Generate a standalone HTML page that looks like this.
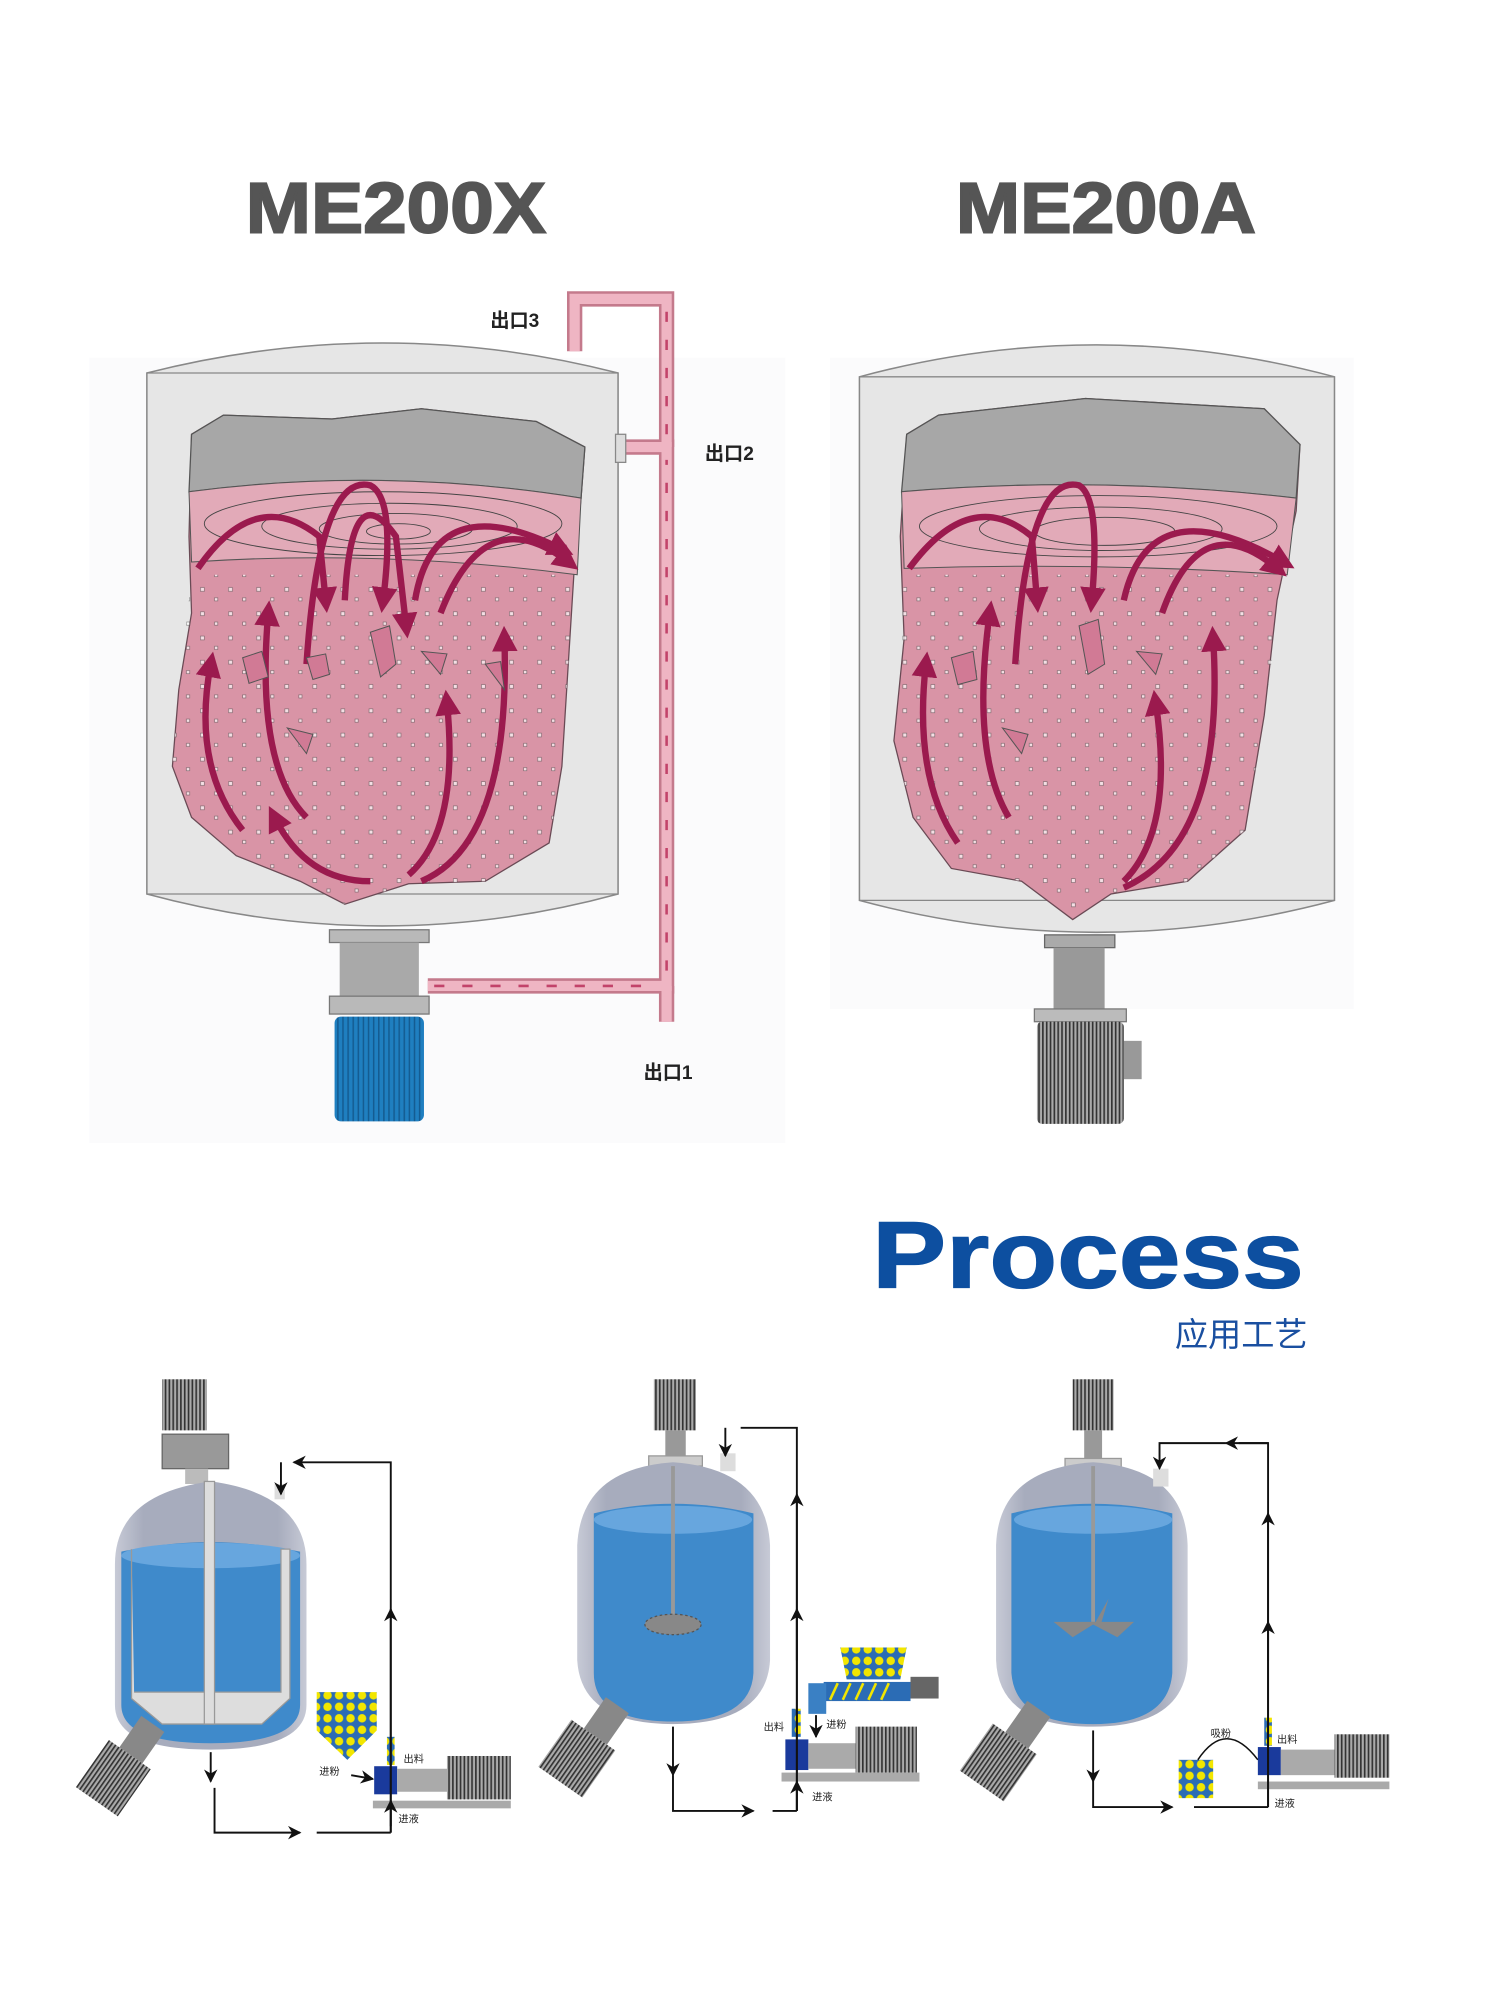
<!DOCTYPE html>
<html><head><meta charset="utf-8"><style>
html,body{margin:0;padding:0;background:#fff}
svg{display:block}
text{font-family:"Liberation Sans","Noto Sans CJK SC",sans-serif}
</style></head><body>
<svg width="1489" height="2000" viewBox="0 0 1166 1566" xmlns="http://www.w3.org/2000/svg">
<defs>
<marker id="ar" viewBox="0 0 10 10" refX="5" refY="5" markerWidth="4" markerHeight="4" orient="auto"><path d="M0,0L10,5L0,10z" fill="#9b1a4e"/></marker>
<marker id="bk" viewBox="0 0 10 10" refX="9" refY="5" markerWidth="9" markerHeight="7" orient="auto"><path d="M0,0L10,5L0,10L3,5z" fill="#111"/></marker>
<linearGradient id="vg" x1="0" x2="1"><stop offset="0" stop-color="#c7cad6"/><stop offset="0.15" stop-color="#a7acbd"/><stop offset="0.85" stop-color="#a7acbd"/><stop offset="1" stop-color="#c7cad6"/></linearGradient>
<pattern id="fin" width="3" height="10" patternUnits="userSpaceOnUse"><rect width="3" height="10" fill="#aaa"/><rect width="1.3" height="10" fill="#333"/></pattern>
<pattern id="dots" width="9" height="9" patternUnits="userSpaceOnUse"><rect width="9" height="9" fill="#2b6cb5"/><circle cx="4.5" cy="4.5" r="3.3" fill="#f2e600"/></pattern>
<pattern id="bfin" width="4" height="10" patternUnits="userSpaceOnUse"><rect width="4" height="10" fill="#1f7fc0"/><rect width="1.2" height="10" fill="#145c92"/></pattern>
<pattern id="spk" width="22" height="19" patternUnits="userSpaceOnUse"><rect x="3" y="4" width="3" height="3" fill="#fff" stroke="#555" stroke-width="0.5"/><rect x="14" y="12" width="2.5" height="2.5" fill="#fff" stroke="#555" stroke-width="0.5"/></pattern>
</defs>

<text x="310" y="182" font-size="56" font-weight="bold" fill="#555" stroke="#555" stroke-width="1.5" text-anchor="middle" textLength="235" lengthAdjust="spacingAndGlyphs">ME200X</text>
<text x="866" y="182" font-size="56" font-weight="bold" fill="#555" stroke="#555" stroke-width="1.5" text-anchor="middle" textLength="235" lengthAdjust="spacingAndGlyphs">ME200A</text>

<!-- LEFT TANK -->
<rect x="70" y="280" width="545" height="615" fill="#fbfbfc"/>
<path d="M115,292 Q300,245 484,292 L484,700 Q300,750 115,700 Z" fill="#e6e6e6" stroke="#888" stroke-width="1.2"/>
<line x1="115" y1="292" x2="484" y2="292" stroke="#888"/>
<line x1="115" y1="700" x2="484" y2="700" stroke="#888"/>
<path d="M150,340 L175,325 L260,328 L330,320 L420,330 L458,350 L455,390 L450,440 L445,520 L440,600 L430,660 L380,690 L320,692 L270,708 L235,690 L185,670 L150,640 L135,600 L140,540 L150,480 L148,420 Z" fill="#d994a6" stroke="#6a4a55" stroke-width="1"/>
<path d="M150,450 L450,450 L445,520 L440,600 L430,660 L380,690 L320,692 L270,708 L235,690 L185,670 L150,640 L135,600 L140,540 Z" fill="url(#spk)" opacity="0.7"/>
<path d="M150,340 L175,325 L260,328 L330,320 L420,330 L458,350 L455,390 Q300,365 148,385 Z" fill="#a7a7a7" stroke="#555"/>
<path d="M148,385 Q300,365 455,390 L452,450 Q300,430 150,440 Z" fill="#e2aab8" stroke="#555" stroke-width="0.8"/>
<g fill="none" stroke="#444" stroke-width="0.7">
<ellipse cx="300" cy="410" rx="140" ry="25"/><ellipse cx="305" cy="412" rx="100" ry="18"/><ellipse cx="310" cy="414" rx="60" ry="12"/><ellipse cx="312" cy="416" rx="25" ry="6"/>
</g>
<g fill="none" stroke="#9b1a4e" stroke-width="5" marker-end="url(#ar)">
<path d="M155,445 Q200,380 250,420 L255,470"/>
<path d="M240,520 Q250,370 290,380 Q310,390 300,470"/>
<path d="M270,470 Q275,370 310,420 L318,490"/>
<path d="M325,470 Q340,380 440,430"/>
<path d="M345,480 Q380,390 445,440"/>
<path d="M240,640 Q200,600 210,480"/>
<path d="M190,650 Q150,600 165,520"/>
<path d="M290,690 Q240,690 215,640"/>
<path d="M320,685 Q360,650 350,550"/>
<path d="M330,690 Q400,660 395,500"/>
</g>
<g fill="#d17a95" stroke="#555" stroke-width="0.8">
<polygon points="290,495 305,490 310,520 298,530"/><polygon points="190,515 205,510 210,530 195,535"/><polygon points="330,510 350,512 345,528"/><polygon points="225,570 245,575 240,590"/><polygon points="240,515 255,512 258,528 245,532"/><polygon points="380,520 392,518 395,540"/>
</g>

<g fill="none" stroke="#c47a8c" stroke-width="12" stroke-linejoin="miter"><path d="M335,772 L522,772 L522,350 L484,350"/><path d="M522,772 L522,800"/><path d="M522,350 L522,234 L450,234 L450,275"/></g>
<g fill="none" stroke="#efb5c3" stroke-width="8" stroke-linejoin="miter"><path d="M335,772 L522,772 L522,350 L484,350"/><path d="M522,772 L522,800"/><path d="M522,350 L522,234 L450,234 L450,275"/></g>
<g stroke="#c2436a" stroke-width="2" stroke-dasharray="8,14"><line x1="340" y1="772" x2="505" y2="772"/><line x1="522" y1="760" x2="522" y2="360"/><line x1="522" y1="340" x2="522" y2="240"/></g>
<rect x="482" y="340" width="8" height="22" fill="#ddd" stroke="#888"/>
<text x="384" y="256" font-size="15" font-weight="bold" fill="#222">出口3</text>
<text x="552" y="360" font-size="15" font-weight="bold" fill="#222">出口2</text>
<text x="504" y="845" font-size="15" font-weight="bold" fill="#222">出口1</text>
<rect x="258" y="728" width="78" height="10" fill="#b9b9b9" stroke="#777"/>
<rect x="266" y="738" width="62" height="42" fill="#a9a9a9"/>
<rect x="258" y="780" width="78" height="14" fill="#b9b9b9" stroke="#777"/>
<rect x="262" y="796" width="70" height="82" rx="5" fill="url(#bfin)"/>

<!-- RIGHT TANK -->
<rect x="650" y="280" width="410" height="510" fill="#fbfbfc"/>
<path d="M673,295 Q858,245 1045,295 L1045,705 Q858,755 673,705 Z" fill="#e6e6e6" stroke="#888" stroke-width="1.2"/>
<line x1="673" y1="295" x2="1045" y2="295" stroke="#888"/><line x1="673" y1="705" x2="1045" y2="705" stroke="#888"/>
<path d="M710,340 L735,325 L850,312 L990,320 L1018,348 L1015,400 L1000,470 L990,560 L975,650 L930,690 L870,700 L840,720 L800,690 L745,680 L715,640 L700,580 L708,500 L705,420 Z" fill="#d994a6" stroke="#6a4a55"/>
<path d="M708,450 L1005,450 L990,560 L975,650 L930,690 L870,700 L840,720 L800,690 L745,680 L715,640 L700,580 Z" fill="url(#spk)" opacity="0.7"/>
<path d="M710,340 L735,325 L850,312 L990,320 L1018,348 L1015,390 Q860,372 706,385 Z" fill="#a7a7a7" stroke="#555"/>
<path d="M706,385 Q860,372 1015,390 L1008,450 Q860,440 708,445 Z" fill="#e2aab8" stroke="#555" stroke-width="0.8"/>
<g fill="none" stroke="#444" stroke-width="0.7"><ellipse cx="860" cy="412" rx="140" ry="24"/><ellipse cx="862" cy="414" rx="95" ry="17"/><ellipse cx="865" cy="416" rx="55" ry="11"/></g>
<g fill="none" stroke="#9b1a4e" stroke-width="5" marker-end="url(#ar)">
<path d="M712,445 Q760,380 808,420 L812,470"/>
<path d="M795,520 Q805,370 845,380 Q862,390 855,470"/>
<path d="M880,470 Q900,380 1005,440"/>
<path d="M910,480 Q940,395 1000,445"/>
<path d="M790,640 Q760,590 775,480"/>
<path d="M750,660 Q715,610 725,520"/>
<path d="M880,690 Q920,650 905,550"/>
<path d="M880,695 Q960,660 950,500"/>
</g>
<g fill="#d17a95" stroke="#555" stroke-width="0.8"><polygon points="845,490 860,485 865,520 852,528"/><polygon points="745,515 762,510 765,532 750,536"/><polygon points="890,510 910,512 905,528"/><polygon points="785,570 805,575 800,590"/></g>
<rect x="818" y="732" width="55" height="10" fill="#aaa" stroke="#666"/>
<rect x="825" y="742" width="40" height="48" fill="#999"/>
<rect x="810" y="790" width="72" height="10" fill="#bbb" stroke="#777"/>
<rect x="812" y="800" width="68" height="80" rx="4" fill="url(#fin)"/>
<rect x="880" y="815" width="14" height="30" fill="#999"/>

<text x="683" y="1008" font-size="74" font-weight="bold" fill="#0d4fa0" stroke="#0d4fa0" stroke-width="1" textLength="338" lengthAdjust="spacingAndGlyphs">Process</text>
<text x="920" y="1054" font-size="26" fill="#1a4fa0">应用工艺</text>

<!-- BOTTOM TANK 1 -->
<rect x="127" y="1080" width="35" height="40" fill="url(#fin)"/>
<rect x="127" y="1123" width="52" height="27" fill="#999" stroke="#666"/>
<rect x="145" y="1150" width="18" height="12" fill="#bbb"/>
<path d="M90,1225 Q90,1170 165,1160 Q240,1170 240,1225 L240,1335 Q240,1370 165,1370 Q90,1370 90,1335 Z" fill="url(#vg)"/>
<path d="M95,1215 Q165,1200 235,1215 L235,1335 Q235,1365 165,1365 Q95,1365 95,1335 Z" fill="#3f8acb"/>
<ellipse cx="165" cy="1218" rx="70" ry="10" fill="#67a6de"/>
<path d="M103,1213 L103,1330 L127,1350 L205,1350 L227,1330 L227,1213 L220,1213 L220,1325 L105,1325" fill="#ddd" stroke="#999"/>
<rect x="160" y="1160" width="8" height="190" fill="#ddd" stroke="#999"/>
<rect x="215" y="1162" width="8" height="12" fill="#ddd"/>
<g transform="rotate(35 100 1385)"><rect x="85" y="1345" width="22" height="30" fill="#888"/><rect x="75" y="1375" width="40" height="45" fill="url(#fin)"/></g>
<path d="M248,1325 L295,1325 L295,1355 L272,1378 L248,1355 Z" fill="url(#dots)"/>
<rect x="303" y="1360" width="6" height="22" fill="url(#dots)"/>
<rect x="293" y="1383" width="18" height="22" fill="#1a3a9c"/>
<rect x="311" y="1385" width="40" height="18" fill="#aaa"/><rect x="350" y="1375" width="50" height="34" fill="url(#fin)"/>
<rect x="292" y="1410" width="108" height="6" fill="#aaa"/>
<g fill="none" stroke="#111" stroke-width="1.5">
<path d="M306,1435 L306,1145 L230,1145" marker-end="url(#bk)"/><path d="M220,1145 L220,1170" marker-end="url(#bk)"/>
<path d="M306,1435 L306,1260" marker-end="url(#bk)"/>
<path d="M165,1372 L165,1395" marker-end="url(#bk)"/><path d="M168,1400 L168,1435 L235,1435" marker-end="url(#bk)"/><path d="M248,1435 L306,1435"/>
<path d="M306,1430 L306,1410" marker-end="url(#bk)"/><path d="M275,1390 L292,1393" marker-end="url(#bk)"/>
</g>
<text x="316" y="1380" font-size="8" fill="#222">出料</text><text x="250" y="1390" font-size="8" fill="#222">进粉</text><text x="312" y="1427" font-size="8" fill="#222">进液</text>

<!-- BOTTOM TANK 2 -->
<rect x="512" y="1080" width="33" height="40" fill="url(#fin)"/>
<rect x="521" y="1120" width="16" height="30" fill="#999"/>
<rect x="508" y="1140" width="42" height="8" fill="#ccc" stroke="#999"/>
<path d="M452,1210 Q455,1150 527,1145 Q600,1150 603,1210 L603,1300 Q600,1350 527,1350 Q455,1350 452,1300 Z" fill="url(#vg)"/>
<path d="M465,1185 Q527,1170 590,1185 L590,1310 Q588,1348 527,1348 Q465,1348 465,1310 Z" fill="#3f8acb"/>
<ellipse cx="527" cy="1190" rx="62" ry="11" fill="#67a6de"/>
<line x1="527" y1="1148" x2="527" y2="1270" stroke="#999" stroke-width="3"/>
<ellipse cx="527" cy="1272" rx="22" ry="8" fill="#888" stroke="#555" stroke-dasharray="2,2"/>
<rect x="564" y="1138" width="12" height="14" fill="#ddd"/>
<g transform="rotate(35 465 1365)"><rect x="452" y="1330" width="22" height="30" fill="#888"/><rect x="440" y="1360" width="42" height="45" fill="url(#fin)"/></g>
<path d="M658,1290 L710,1290 L705,1315 L663,1315 Z" fill="url(#dots)"/>
<rect x="645" y="1317" width="68" height="15" fill="#2b6cb5"/>
<g stroke="#f2e600" stroke-width="2"><line x1="650" y1="1331" x2="656" y2="1318"/><line x1="660" y1="1331" x2="666" y2="1318"/><line x1="670" y1="1331" x2="676" y2="1318"/><line x1="680" y1="1331" x2="686" y2="1318"/><line x1="690" y1="1331" x2="696" y2="1318"/></g>
<rect x="633" y="1318" width="14" height="24" fill="#3a80c4"/>
<rect x="713" y="1313" width="22" height="17" fill="#666"/>
<rect x="620" y="1338" width="7" height="22" fill="url(#dots)"/>
<rect x="615" y="1362" width="18" height="24" fill="#1a3a9c"/>
<rect x="633" y="1365" width="40" height="20" fill="#aaa"/><rect x="670" y="1352" width="48" height="36" fill="url(#fin)"/>
<rect x="612" y="1388" width="108" height="7" fill="#aaa"/>
<g fill="none" stroke="#111" stroke-width="1.5">
<path d="M624,1418 L624,1118 L580,1118"/><path d="M568,1118 L568,1140" marker-end="url(#bk)"/>
<path d="M624,1300 L624,1170" marker-end="url(#bk)"/><path d="M624,1418 L624,1260" marker-end="url(#bk)"/>
<path d="M624,1418 L624,1395" marker-end="url(#bk)"/>
<path d="M527,1352 L527,1390" marker-end="url(#bk)"/><path d="M527,1390 L527,1418 L590,1418" marker-end="url(#bk)"/><path d="M605,1418 L624,1418"/>
<path d="M639,1343 L639,1360" marker-end="url(#bk)"/>
</g>
<text x="598" y="1355" font-size="8" fill="#222">出料</text><text x="647" y="1353" font-size="8" fill="#222">进粉</text><text x="636" y="1410" font-size="8" fill="#222">进液</text>

<!-- BOTTOM TANK 3 -->
<rect x="840" y="1080" width="32" height="40" fill="url(#fin)"/>
<rect x="849" y="1120" width="14" height="25" fill="#999"/>
<rect x="834" y="1142" width="44" height="7" fill="#ccc" stroke="#999"/>
<path d="M780,1210 Q782,1150 856,1145 Q928,1150 930,1210 L930,1300 Q928,1352 856,1352 Q782,1352 780,1300 Z" fill="url(#vg)"/>
<path d="M792,1185 Q856,1170 918,1185 L918,1310 Q915,1350 856,1350 Q795,1350 792,1310 Z" fill="#3f8acb"/>
<ellipse cx="856" cy="1190" rx="62" ry="11" fill="#67a6de"/>
<line x1="856" y1="1148" x2="856" y2="1270" stroke="#999" stroke-width="3"/>
<path d="M825,1270 L888,1270 L875,1282 L856,1272 L840,1282 Z" fill="#888"/><path d="M858,1270 L868,1252 L862,1272 Z" fill="#888"/>
<rect x="903" y="1150" width="12" height="14" fill="#ddd"/>
<g transform="rotate(35 795 1368)"><rect x="782" y="1333" width="22" height="30" fill="#888"/><rect x="770" y="1363" width="42" height="45" fill="url(#fin)"/></g>
<rect x="923" y="1378" width="27" height="30" fill="url(#dots)"/>
<path d="M938,1378 Q960,1345 985,1378" fill="none" stroke="#111" stroke-width="1.2"/>
<rect x="990" y="1345" width="6" height="22" fill="url(#dots)"/>
<rect x="985" y="1368" width="18" height="22" fill="#1a3a9c"/>
<rect x="1003" y="1370" width="45" height="20" fill="#aaa"/><rect x="1045" y="1358" width="43" height="34" fill="url(#fin)"/>
<rect x="985" y="1395" width="103" height="6" fill="#aaa"/>
<g fill="none" stroke="#111" stroke-width="1.5">
<path d="M993,1415 L993,1130 L970,1130"/><path d="M960,1130 L908,1130 L908,1150" marker-end="url(#bk)"/>
<path d="M993,1300 L993,1185" marker-end="url(#bk)"/><path d="M993,1415 L993,1270" marker-end="url(#bk)"/>
<path d="M993,1130 L960,1130" marker-end="url(#bk)"/>
<path d="M856,1355 L856,1395" marker-end="url(#bk)"/><path d="M856,1395 L856,1415 L918,1415" marker-end="url(#bk)"/><path d="M935,1415 L993,1415"/>
</g>
<text x="948" y="1360" font-size="8" fill="#222">吸粉</text><text x="1000" y="1365" font-size="8" fill="#222">出料</text><text x="998" y="1415" font-size="8" fill="#222">进液</text>
</svg>
</body></html>
